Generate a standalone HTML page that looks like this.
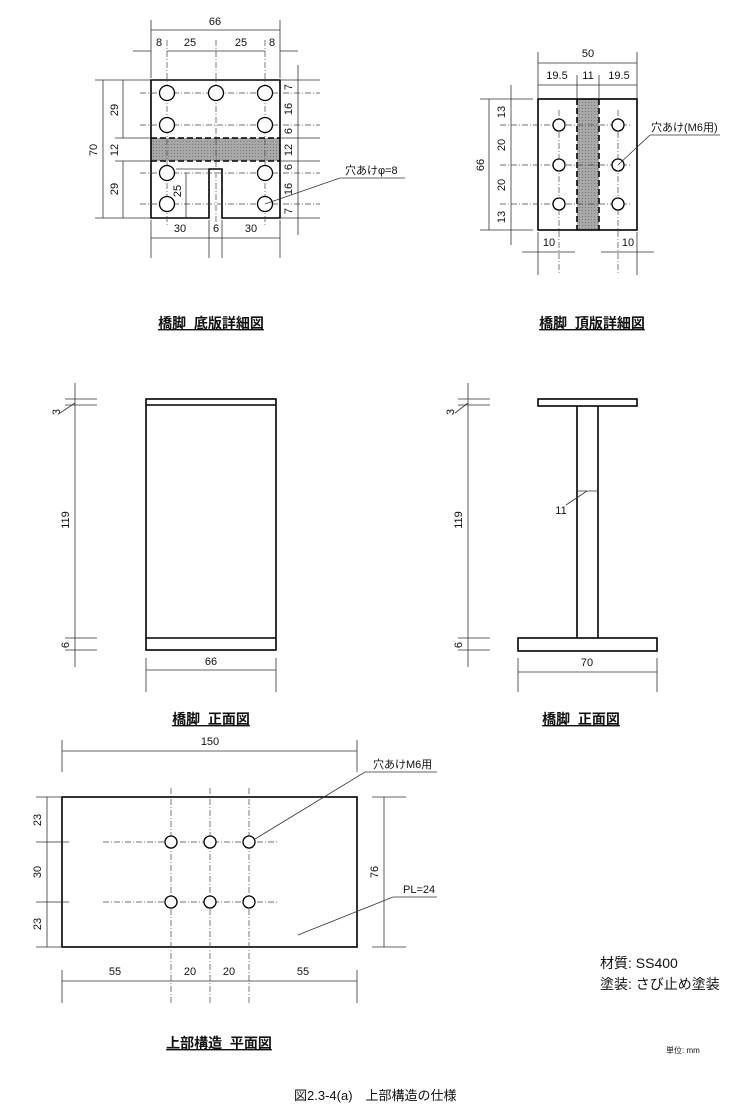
<!DOCTYPE html>
<html><head><meta charset="utf-8"><style>
body{margin:0;background:#fff}
svg{display:block}
text{font-family:"Liberation Sans","Noto Sans CJK JP",sans-serif;fill:#111;white-space:pre}
.o{fill:none;stroke:#000;stroke-width:1.6}
.d{fill:none;stroke:#333;stroke-width:0.8}
.c{fill:none;stroke:#444;stroke-width:0.7;stroke-dasharray:6 2 1 2}
.h{fill:#fff;stroke:#000;stroke-width:1.3}
.t{font-size:11px}
.tt{font-size:14px;font-weight:bold}
</style></head><body>
<svg width="749" height="1111" viewBox="0 0 749 1111" xmlns="http://www.w3.org/2000/svg" xml:space="preserve">
<defs>
<pattern id="g" width="3" height="3" patternUnits="userSpaceOnUse"><rect width="3" height="3" fill="#a8a8a8"/><rect width="1" height="1" fill="#777"/></pattern>
</defs>

<g>
<rect x="151" y="138" width="129" height="23" fill="url(#g)"/>
<line class="o" x1="151" y1="138" x2="280" y2="138" stroke-dasharray="6 3"/>
<line class="o" x1="151" y1="161" x2="280" y2="161" stroke-dasharray="6 3"/>
<path class="o" d="M151 80 H280 V218 H222 V169 H209 V218 H151 Z"/>
<line class="c" x1="167" y1="40" x2="167" y2="225"/>
<line class="c" x1="216" y1="40" x2="216" y2="225"/>
<line class="c" x1="265" y1="40" x2="265" y2="225"/>
<line class="c" x1="140" y1="93" x2="320" y2="93"/>
<line class="c" x1="140" y1="125" x2="320" y2="125"/>
<line class="c" x1="140" y1="173" x2="320" y2="173"/>
<line class="c" x1="140" y1="204" x2="320" y2="204"/>
<circle class="h" cx="167" cy="93" r="7.5"/><circle class="h" cx="216" cy="93" r="7.5"/><circle class="h" cx="265" cy="93" r="7.5"/>
<circle class="h" cx="167" cy="125" r="7.5"/><circle class="h" cx="265" cy="125" r="7.5"/>
<circle class="h" cx="167" cy="173" r="7.5"/><circle class="h" cx="265" cy="173" r="7.5"/>
<circle class="h" cx="167" cy="204" r="7.5"/><circle class="h" cx="265" cy="204" r="7.5"/>
<line class="d" x1="151" y1="20" x2="151" y2="78"/><line class="d" x1="280" y1="20" x2="280" y2="78"/>
<line class="d" x1="151" y1="30" x2="280" y2="30"/>
<text class="t" x="215" y="25" text-anchor="middle">66</text>
<line class="d" x1="133" y1="51" x2="151" y2="51"/><line class="d" x1="280" y1="51" x2="298" y2="51"/>
<line class="d" x1="167" y1="51" x2="265" y2="51"/>
<text class="t" x="159" y="46" text-anchor="middle">8</text>
<text class="t" x="190" y="46" text-anchor="middle">25</text>
<text class="t" x="241" y="46" text-anchor="middle">25</text>
<text class="t" x="272" y="46" text-anchor="middle">8</text>
<line class="d" x1="95" y1="80" x2="150" y2="80"/><line class="d" x1="95" y1="218" x2="150" y2="218"/>
<line class="d" x1="115" y1="138" x2="150" y2="138"/><line class="d" x1="115" y1="161" x2="150" y2="161"/>
<line class="d" x1="103" y1="80" x2="103" y2="218"/>
<line class="d" x1="123" y1="80" x2="123" y2="138"/><line class="d" x1="123" y1="161" x2="123" y2="218"/>
<text class="t" transform="translate(97,150) rotate(-90)" text-anchor="middle">70</text>
<text class="t" transform="translate(118,110) rotate(-90)" text-anchor="middle">29</text>
<text class="t" transform="translate(118,150) rotate(-90)" text-anchor="middle">12</text>
<text class="t" transform="translate(118,189) rotate(-90)" text-anchor="middle">29</text>
<line class="d" x1="186" y1="173" x2="186" y2="218"/><line class="d" x1="176" y1="169" x2="209" y2="169"/>
<text class="t" transform="translate(181,191) rotate(-90)" text-anchor="middle">25</text>
<line class="d" x1="281" y1="80" x2="320" y2="80"/><line class="d" x1="281" y1="218" x2="320" y2="218"/>
<line class="d" x1="281" y1="138" x2="320" y2="138"/><line class="d" x1="281" y1="161" x2="320" y2="161"/>
<line class="d" x1="298" y1="65" x2="298" y2="235"/>
<text class="t" transform="translate(292,87) rotate(-90)" text-anchor="middle">7</text>
<text class="t" transform="translate(292,109) rotate(-90)" text-anchor="middle">16</text>
<text class="t" transform="translate(292,131) rotate(-90)" text-anchor="middle">6</text>
<text class="t" transform="translate(292,150) rotate(-90)" text-anchor="middle">12</text>
<text class="t" transform="translate(292,167) rotate(-90)" text-anchor="middle">6</text>
<text class="t" transform="translate(292,189) rotate(-90)" text-anchor="middle">16</text>
<text class="t" transform="translate(292,211) rotate(-90)" text-anchor="middle">7</text>
<line class="d" x1="151" y1="220" x2="151" y2="258"/><line class="d" x1="280" y1="220" x2="280" y2="258"/>
<line class="d" x1="209" y1="220" x2="209" y2="258"/><line class="d" x1="222" y1="220" x2="222" y2="258"/>
<line class="d" x1="151" y1="238" x2="280" y2="238"/>
<text class="t" x="180" y="232" text-anchor="middle">30</text>
<text class="t" x="216" y="232" text-anchor="middle">6</text>
<text class="t" x="251" y="232" text-anchor="middle">30</text>
<polyline class="d" stroke="#000" stroke-width="1" points="265,204 340,178 405,178"/>
<text class="t" x="345" y="174">穴あけφ=8</text>
</g>
<text class="tt" x="211" y="328" text-anchor="middle" text-decoration="underline">橋脚  底版詳細図</text>

<g>
<rect x="577" y="99" width="22" height="131" fill="url(#g)"/>
<line class="o" x1="577" y1="99" x2="577" y2="230" stroke-dasharray="6 3"/>
<line class="o" x1="599" y1="99" x2="599" y2="230" stroke-dasharray="6 3"/>
<rect class="o" x="538" y="99" width="99" height="131"/>
<line class="c" x1="559" y1="110" x2="559" y2="275"/>
<line class="c" x1="618" y1="110" x2="618" y2="275"/>
<line class="c" x1="500" y1="125" x2="632" y2="125"/>
<line class="c" x1="500" y1="165" x2="632" y2="165"/>
<line class="c" x1="500" y1="204" x2="632" y2="204"/>
<circle class="h" cx="559" cy="125" r="6"/><circle class="h" cx="618" cy="125" r="6"/>
<circle class="h" cx="559" cy="165" r="6"/><circle class="h" cx="618" cy="165" r="6"/>
<circle class="h" cx="559" cy="204" r="6"/><circle class="h" cx="618" cy="204" r="6"/>
<line class="d" x1="538" y1="52" x2="538" y2="98"/><line class="d" x1="637" y1="52" x2="637" y2="98"/>
<line class="d" x1="577" y1="75" x2="577" y2="98"/><line class="d" x1="599" y1="75" x2="599" y2="98"/>
<line class="d" x1="538" y1="63" x2="637" y2="63"/>
<text class="t" x="588" y="57" text-anchor="middle">50</text>
<line class="d" x1="538" y1="85" x2="637" y2="85"/>
<text class="t" x="557" y="79" text-anchor="middle">19.5</text>
<text class="t" x="588" y="79" text-anchor="middle">11</text>
<text class="t" x="619" y="79" text-anchor="middle">19.5</text>
<line class="d" x1="480" y1="99" x2="533" y2="99"/><line class="d" x1="480" y1="230" x2="533" y2="230"/>
<line class="d" x1="489" y1="99" x2="489" y2="230"/>
<line class="d" x1="511" y1="85" x2="511" y2="245"/>
<text class="t" transform="translate(484,165) rotate(-90)" text-anchor="middle">66</text>
<text class="t" transform="translate(505,112) rotate(-90)" text-anchor="middle">13</text>
<text class="t" transform="translate(505,145) rotate(-90)" text-anchor="middle">20</text>
<text class="t" transform="translate(505,185) rotate(-90)" text-anchor="middle">20</text>
<text class="t" transform="translate(505,217) rotate(-90)" text-anchor="middle">13</text>
<line class="d" x1="538" y1="232" x2="538" y2="275"/><line class="d" x1="637" y1="232" x2="637" y2="275"/>
<line class="d" x1="522" y1="252" x2="575" y2="252"/><line class="d" x1="601" y1="252" x2="654" y2="252"/>
<text class="t" x="549" y="246" text-anchor="middle">10</text>
<text class="t" x="628" y="246" text-anchor="middle">10</text>
<polyline class="d" stroke="#000" stroke-width="1" points="618,165 650,135 720,135"/>
<text class="t" x="651" y="131">穴あけ(M6用)</text>
</g>
<text class="tt" x="592" y="328" text-anchor="middle" text-decoration="underline">橋脚  頂版詳細図</text>

<g>
<rect class="o" x="146" y="399" width="130" height="251"/>
<line class="o" x1="146" y1="405" x2="276" y2="405"/>
<line class="o" x1="146" y1="638" x2="276" y2="638"/>
<line class="d" x1="65" y1="399" x2="97" y2="399"/><line class="d" x1="65" y1="405" x2="97" y2="405"/>
<line class="d" x1="65" y1="638" x2="97" y2="638"/><line class="d" x1="65" y1="650" x2="97" y2="650"/>
<line class="d" x1="75" y1="383" x2="75" y2="667"/>
<line class="d" x1="60" y1="413" x2="75" y2="403"/>
<text class="t" transform="translate(60,412) rotate(-90)" text-anchor="middle">3</text>
<text class="t" transform="translate(69,520) rotate(-90)" text-anchor="middle">119</text>
<text class="t" transform="translate(69,645) rotate(-90)" text-anchor="middle">6</text>
<line class="d" x1="146" y1="658" x2="146" y2="692"/><line class="d" x1="276" y1="658" x2="276" y2="692"/>
<line class="d" x1="146" y1="670" x2="276" y2="670"/>
<text class="t" x="211" y="665" text-anchor="middle">66</text>
</g>
<text class="tt" x="211" y="724" text-anchor="middle" text-decoration="underline">橋脚  正面図</text>

<g>
<rect class="o" x="538" y="399" width="99" height="7"/>
<line class="o" x1="577" y1="406" x2="577" y2="638"/>
<line class="o" x1="598" y1="406" x2="598" y2="638"/>
<rect class="o" x="518" y="638" width="139" height="13"/>
<line class="d" x1="458" y1="399" x2="490" y2="399"/><line class="d" x1="458" y1="405" x2="490" y2="405"/>
<line class="d" x1="458" y1="638" x2="490" y2="638"/><line class="d" x1="458" y1="650" x2="490" y2="650"/>
<line class="d" x1="468" y1="383" x2="468" y2="667"/>
<line class="d" x1="455" y1="413" x2="468" y2="403"/>
<text class="t" transform="translate(454,412) rotate(-90)" text-anchor="middle">3</text>
<text class="t" transform="translate(462,520) rotate(-90)" text-anchor="middle">119</text>
<text class="t" transform="translate(462,645) rotate(-90)" text-anchor="middle">6</text>
<line class="d" x1="577" y1="491" x2="598" y2="491"/>
<line class="d" x1="566" y1="505" x2="587" y2="491"/>
<text class="t" x="561" y="514" text-anchor="middle">11</text>
<line class="d" x1="518" y1="658" x2="518" y2="692"/><line class="d" x1="657" y1="658" x2="657" y2="692"/>
<line class="d" x1="518" y1="672" x2="657" y2="672"/>
<text class="t" x="587" y="666" text-anchor="middle">70</text>
</g>
<text class="tt" x="581" y="724" text-anchor="middle" text-decoration="underline">橋脚  正面図</text>

<g>
<rect class="o" x="62" y="797" width="295" height="150"/>
<line class="c" x1="171" y1="788" x2="171" y2="1003"/>
<line class="c" x1="210" y1="788" x2="210" y2="1003"/>
<line class="c" x1="249" y1="788" x2="249" y2="1003"/>
<line class="c" x1="103" y1="842" x2="278" y2="842"/>
<line class="c" x1="103" y1="902" x2="278" y2="902"/>
<circle class="h" cx="171" cy="842" r="6"/><circle class="h" cx="210" cy="842" r="6"/><circle class="h" cx="249" cy="842" r="6"/>
<circle class="h" cx="171" cy="902" r="6"/><circle class="h" cx="210" cy="902" r="6"/><circle class="h" cx="249" cy="902" r="6"/>
<line class="d" x1="62" y1="740" x2="62" y2="772"/><line class="d" x1="357" y1="740" x2="357" y2="772"/>
<line class="d" x1="62" y1="751" x2="357" y2="751"/>
<text class="t" x="210" y="745" text-anchor="middle">150</text>
<line class="d" x1="36" y1="797" x2="61" y2="797"/><line class="d" x1="36" y1="947" x2="61" y2="947"/>
<line class="d" x1="36" y1="842" x2="69" y2="842"/><line class="d" x1="36" y1="902" x2="69" y2="902"/>
<line class="d" x1="47" y1="797" x2="47" y2="947"/>
<text class="t" transform="translate(41,820) rotate(-90)" text-anchor="middle">23</text>
<text class="t" transform="translate(41,872) rotate(-90)" text-anchor="middle">30</text>
<text class="t" transform="translate(41,924) rotate(-90)" text-anchor="middle">23</text>
<line class="d" x1="372" y1="797" x2="406" y2="797"/><line class="d" x1="372" y1="947" x2="406" y2="947"/>
<line class="d" x1="384" y1="797" x2="384" y2="947"/>
<text class="t" transform="translate(378,872) rotate(-90)" text-anchor="middle">76</text>
<line class="d" x1="62" y1="970" x2="62" y2="1003"/><line class="d" x1="357" y1="970" x2="357" y2="1003"/>
<line class="d" x1="62" y1="981" x2="357" y2="981"/>
<text class="t" x="115" y="975" text-anchor="middle">55</text>
<text class="t" x="190" y="975" text-anchor="middle">20</text>
<text class="t" x="229" y="975" text-anchor="middle">20</text>
<text class="t" x="303" y="975" text-anchor="middle">55</text>
<polyline class="d" stroke="#000" stroke-width="1" points="255,839 365,772 437,772"/>
<text class="t" x="373" y="768">穴あけM6用</text>
<polyline class="d" stroke="#000" stroke-width="1" points="298,935 393,897 437,897"/>
<text class="t" x="403" y="893">PL=24</text>
</g>
<text class="tt" x="219" y="1048" text-anchor="middle" text-decoration="underline">上部構造  平面図</text>

<text x="600" y="968" style="font-size:14px">材質: SS400</text>
<text x="600" y="989" style="font-size:14px">塗装: さび止め塗装</text>
<text x="666" y="1053" style="font-size:8px">単位: mm</text>
<text x="294" y="1100" style="font-size:13px">図2.3-4(a)　上部構造の仕様</text>
</svg>
</body></html>
